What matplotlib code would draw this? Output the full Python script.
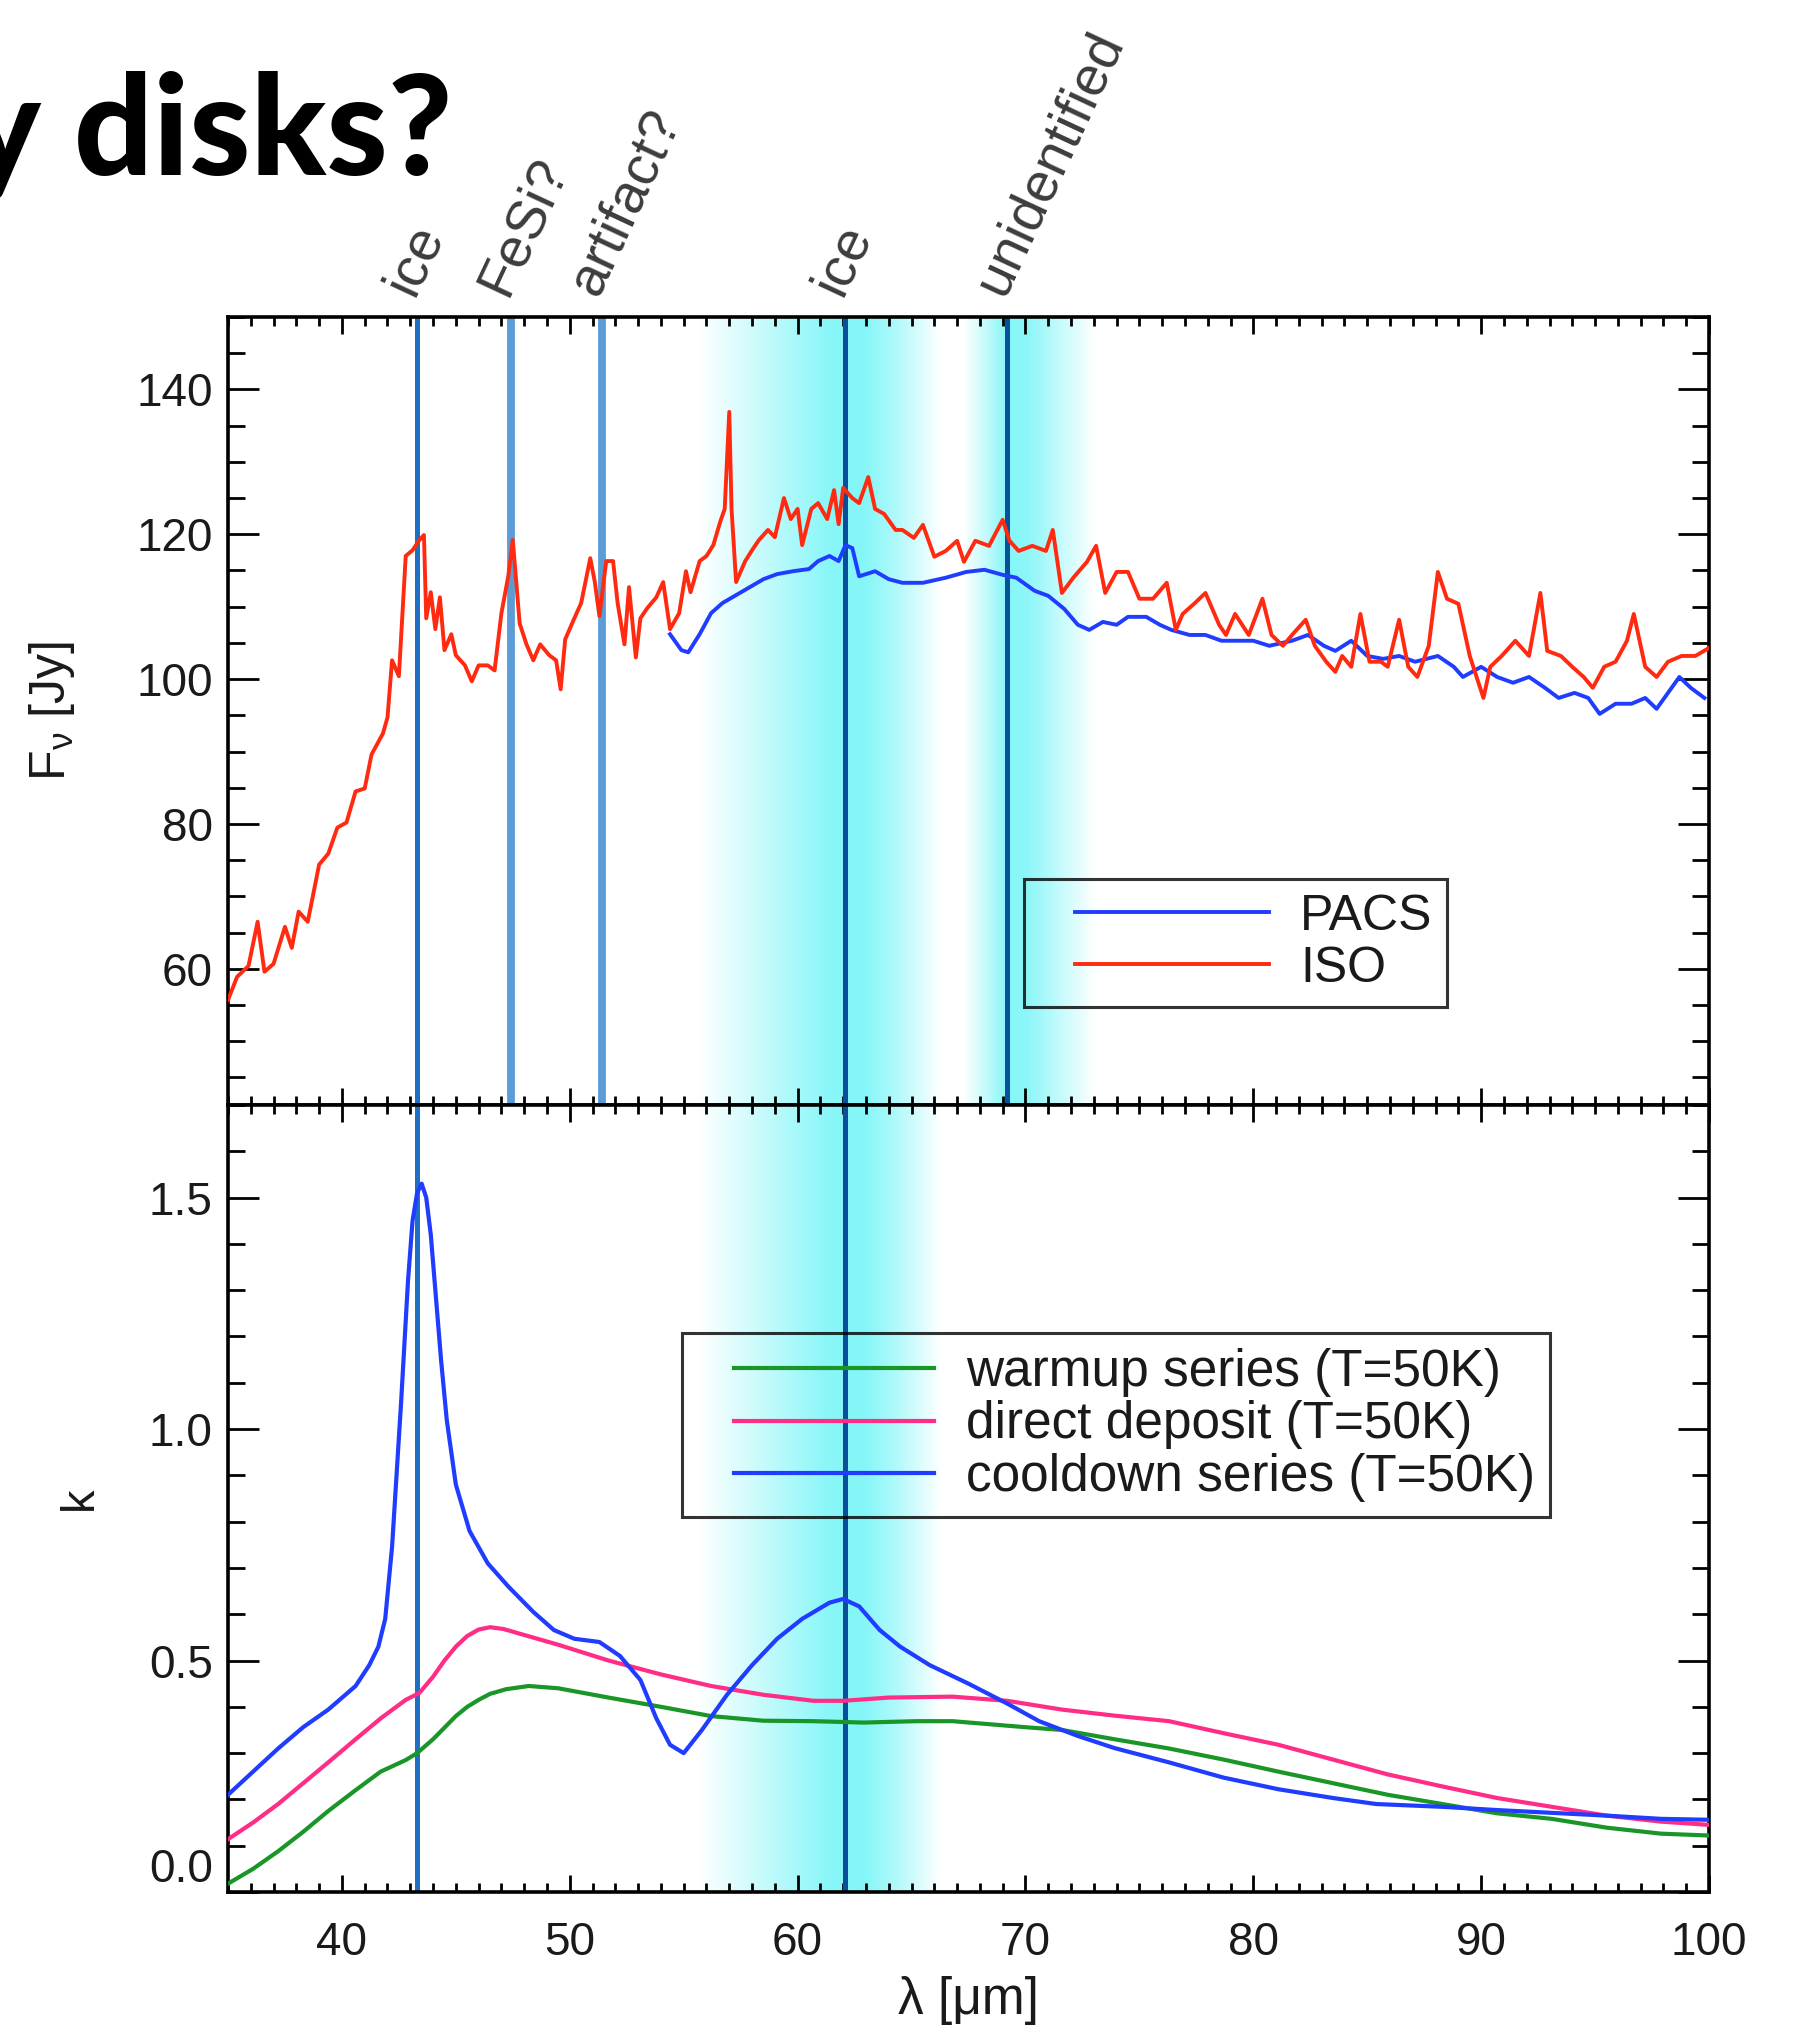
import numpy as np
import matplotlib
matplotlib.use("Agg")
import matplotlib.pyplot as plt
from matplotlib.colors import LinearSegmentedColormap
from matplotlib.legend_handler import HandlerLine2D
from matplotlib.ticker import MultipleLocator, FormatStrFormatter

plt.rcParams['font.family'] = ['Liberation Sans', 'DejaVu Sans']
plt.rcParams['mathtext.fontset'] = 'custom'
plt.rcParams['mathtext.rm'] = 'Liberation Sans'
plt.rcParams['mathtext.it'] = 'Liberation Sans:italic'

# ---------------- data: top panel (flux) ----------------
iso_wl = [35.0, 35.4, 35.9, 36.3, 36.6, 37.0, 37.5, 37.8, 38.1, 38.5, 39.0, 39.4, 39.8,
          40.2, 40.6, 41.0, 41.3, 41.8, 42.0, 42.2, 42.5, 42.8, 43.1, 43.4, 43.6, 43.7,
          43.9, 44.1, 44.3, 44.5, 44.8, 45.0, 45.4, 45.7, 46.0, 46.4, 46.7, 47.0, 47.3,
          47.5, 47.8, 48.1, 48.4, 48.7, 49.1, 49.4, 49.6, 49.8, 50.2, 50.5, 50.9, 51.1,
          51.3, 51.6, 51.9, 52.1, 52.4, 52.6, 52.9, 53.1, 53.4, 53.8, 54.1, 54.4, 54.8,
          55.1, 55.3, 55.7, 56.0, 56.3, 56.6, 56.8, 57.0, 57.1, 57.3, 57.7, 58.0, 58.3,
          58.7, 59.0, 59.4, 59.7, 60.0, 60.2, 60.6, 60.9, 61.3, 61.6, 61.8, 62.0, 62.4,
          62.7, 63.1, 63.4, 63.8, 64.3, 64.6, 65.1, 65.5, 66.0, 66.5, 67.0, 67.3, 67.8,
          68.4, 69.0, 69.3, 69.7, 70.3, 70.9, 71.2, 71.6, 72.1, 72.7, 73.1, 73.5, 74.0,
          74.5, 75.0, 75.6, 76.2, 76.6, 76.9, 77.4, 77.9, 78.5, 78.8, 79.2, 79.8, 80.4,
          80.8, 81.3, 81.7, 82.3, 82.7, 83.2, 83.6, 83.9, 84.3, 84.7, 85.1, 85.6, 85.9,
          86.4, 86.8, 87.2, 87.7, 88.1, 88.5, 89.0, 89.5, 90.1, 90.4, 90.9, 91.5, 92.1,
          92.6, 92.9, 93.5, 94.0, 94.5, 94.9, 95.4, 95.9, 96.4, 96.7, 97.2, 97.7, 98.2,
          98.8, 99.4, 100.0]
iso_flux = [55.7, 58.9, 60.4, 66.5, 59.6, 60.7, 65.8, 62.9, 67.9, 66.5, 74.4, 75.9, 79.5,
            80.2, 84.5, 84.9, 89.6, 92.5, 94.7, 102.6, 100.4, 117.0, 117.8, 119.2, 119.9, 108.4,
            112.0, 106.9, 111.3, 104.0, 106.2, 103.3, 101.9, 99.7, 101.9, 101.9, 101.2, 109.1, 114.2,
            119.2, 107.7, 104.8, 102.6, 104.8, 103.3, 102.6, 98.6, 105.5, 108.4, 110.5, 116.7, 113.4,
            108.7, 116.3, 116.3, 110.5, 104.8, 112.7, 103.0, 108.4, 109.8, 111.3, 113.4, 106.9, 109.1,
            114.9, 112.0, 116.3, 117.0, 118.5, 121.7, 123.5, 136.9, 123.5, 113.4, 116.3, 117.8, 119.2,
            120.6, 119.6, 125.0, 122.1, 123.5, 118.5, 123.5, 124.3, 122.1, 126.1, 121.4, 126.4, 125.0,
            124.3, 127.9, 123.5, 122.8, 120.6, 120.6, 119.5, 121.3, 116.9, 117.7, 119.1, 116.2, 119.1,
            118.4, 122.0, 119.1, 117.7, 118.4, 117.7, 120.6, 111.9, 114.0, 116.2, 118.4, 111.9, 114.8,
            114.8, 111.1, 111.1, 113.3, 106.8, 109.0, 110.4, 111.9, 107.5, 106.1, 109.0, 106.1, 111.1,
            106.1, 104.6, 106.1, 108.2, 104.6, 102.4, 101.0, 103.2, 101.7, 109.0, 102.4, 102.4, 101.7,
            108.2, 101.7, 100.3, 104.6, 114.8, 111.1, 110.4, 103.2, 97.4, 101.7, 103.2, 105.3, 103.2,
            111.9, 103.9, 103.2, 101.7, 100.3, 98.8, 101.7, 102.4, 105.3, 109.0, 101.7, 100.3, 102.4,
            103.2, 103.2, 104.3]

pacs_wl = [54.4, 54.9, 55.2, 55.7, 56.2, 56.7, 57.3, 57.9, 58.5, 59.1, 59.8, 60.5, 60.9,
           61.4, 61.8, 62.1, 62.4, 62.7, 63.4, 64.0, 64.6, 65.5, 66.5, 67.4, 68.2, 69.0,
           69.6, 70.4, 71.0, 71.7, 72.3, 72.8, 73.4, 74.0, 74.5, 75.3, 75.9, 76.4, 77.2,
           77.9, 78.6, 79.3, 80.0, 80.7, 81.7, 82.4, 83.1, 83.6, 84.3, 85.0, 85.7, 86.4,
           87.1, 88.1, 88.8, 89.2, 90.0, 90.7, 91.4, 92.1, 92.8, 93.4, 94.1, 94.7, 95.2,
           95.9, 96.6, 97.2, 97.7, 98.2, 98.7, 99.2, 99.8]
pacs_flux = [106.2, 104.0, 103.7, 106.2, 109.1, 110.5, 111.6, 112.7, 113.8, 114.5, 114.9, 115.2, 116.3,
             117.0, 116.3, 118.5, 118.1, 114.2, 114.9, 113.8, 113.3, 113.3, 114.0, 114.8, 115.1, 114.4,
             114.0, 112.2, 111.5, 109.7, 107.5, 106.8, 107.9, 107.5, 108.6, 108.6, 107.5, 106.8, 106.1,
             106.1, 105.3, 105.3, 105.3, 104.6, 105.3, 106.1, 104.6, 103.9, 105.3, 103.2, 102.8, 103.2,
             102.4, 103.2, 101.7, 100.3, 101.7, 100.3, 99.5, 100.3, 98.8, 97.4, 98.1, 97.4, 95.2,
             96.6, 96.6, 97.4, 95.9, 98.1, 100.3, 98.8, 97.4]

# ---------------- data: bottom panel (k) ----------------
warm_wl = [35.0, 36.1, 37.2, 38.3, 39.4, 40.6, 41.7, 42.8, 43.3, 44.0, 44.5, 45.0, 45.5,
           46.0, 46.5, 47.2, 48.2, 49.5, 51.7, 54.0, 56.2, 58.5, 60.7, 62.9, 65.2, 66.8,
           70.0, 71.6, 73.9, 76.3, 78.7, 81.1, 83.5, 85.9, 88.3, 90.7, 93.1, 95.5, 97.9, 100.0]
warm_k = [0.018, 0.05, 0.088, 0.13, 0.175, 0.22, 0.26, 0.285, 0.30, 0.33, 0.355, 0.38, 0.40,
          0.415, 0.428, 0.438, 0.445, 0.44, 0.42, 0.40, 0.38, 0.37, 0.369, 0.366, 0.369, 0.369,
          0.356, 0.35, 0.33, 0.31, 0.286, 0.26, 0.235, 0.21, 0.19, 0.17, 0.158, 0.139, 0.126, 0.122]

direct_wl = [35.0, 36.1, 37.2, 38.3, 39.4, 40.6, 41.7, 42.8, 43.4, 44.0, 44.5, 45.0, 45.5,
             46.0, 46.5, 47.1, 47.8, 49.5, 51.7, 54.0, 56.2, 58.5, 60.7, 62.0, 64.0, 66.8,
             69.2, 71.6, 73.9, 76.3, 78.7, 81.1, 83.5, 85.9, 88.3, 90.7, 93.1, 95.5, 97.9, 100.0]
direct_k = [0.114, 0.15, 0.19, 0.235, 0.28, 0.33, 0.375, 0.415, 0.43, 0.465, 0.50, 0.53, 0.553,
            0.567, 0.572, 0.568, 0.558, 0.534, 0.50, 0.47, 0.445, 0.426, 0.413, 0.413, 0.42, 0.422,
            0.413, 0.394, 0.381, 0.369, 0.343, 0.318, 0.286, 0.254, 0.228, 0.203, 0.184, 0.165, 0.152, 0.145]

cool_wl = [35.0, 36.1, 37.2, 38.3, 39.4, 40.6, 41.2, 41.6, 41.9, 42.2, 42.6, 42.9, 43.1,
           43.3, 43.5, 43.7, 43.9, 44.1, 44.35, 44.6, 45.0, 45.6, 46.4, 47.3, 48.4, 49.3,
           50.2, 51.3, 52.2, 53.1, 53.8, 54.4, 55.0, 55.8, 56.9, 58.0, 59.1, 60.2, 61.4,
           62.0, 62.7, 63.6, 64.5, 65.8, 67.5, 69.2, 70.6, 72.3, 73.9, 76.3, 78.7, 81.1,
           83.5, 85.4, 88.3, 90.7, 93.1, 95.5, 97.9, 100.0]
cool_k = [0.21, 0.26, 0.31, 0.356, 0.394, 0.445, 0.49, 0.53, 0.59, 0.745, 1.06, 1.32, 1.45,
          1.51, 1.53, 1.50, 1.42, 1.30, 1.15, 1.02, 0.88, 0.78, 0.71, 0.66, 0.605, 0.566,
          0.547, 0.54, 0.51, 0.458, 0.375, 0.318, 0.30, 0.35, 0.426, 0.49, 0.547, 0.59, 0.625,
          0.633, 0.617, 0.566, 0.53, 0.49, 0.45, 0.407, 0.369, 0.337, 0.311, 0.28, 0.247, 0.222,
          0.203, 0.19, 0.184, 0.177, 0.171, 0.165, 0.158, 0.156]

# ---------------- feature markers ----------------
feature_wl = [43.3, 47.4, 51.4, 62.1, 69.2]
feature_labels = ['ice', 'FeSi?', 'artifact?', 'ice', 'unidentified']
feature_colors = ['#1f6fc4', '#5b9bd6', '#5b9bd6', '#0a4f9c', '#0a4f9c']
feature_widths = [3.6, 5.6, 5.6, 3.6, 3.6]
feature_in_bottom = [True, False, False, True, False]

# cyan shading profiles (knots: wavelength, strength)
shade_top_x = [35.0, 55.6, 57.5, 60.0, 61.3, 62.9, 64.3, 66.3, 67.3, 68.4, 69.2, 70.2, 71.6, 73.1, 100.0]
shade_top_v = [0.0, 0.0, 0.3, 0.72, 0.95, 1.0, 0.65, 0.0, 0.0, 0.55, 1.0, 0.9, 0.45, 0.0, 0.0]
shade_bot_x = [35.0, 55.6, 57.5, 60.0, 61.3, 62.9, 64.3, 66.3, 100.0]
shade_bot_v = [0.0, 0.0, 0.3, 0.72, 0.95, 1.0, 0.65, 0.0, 0.0]

# ---------------- figure ----------------
W, H = 1799, 2029
fig = plt.figure(figsize=(W / 100, H / 100), dpi=100)
x0, x1 = 228, 1709
yt, ym, yb = 317, 1105, 1892
ax1 = fig.add_axes([x0 / W, 1 - ym / H, (x1 - x0) / W, (ym - yt) / H])
ax2 = fig.add_axes([x0 / W, 1 - yb / H, (x1 - x0) / W, (yb - ym) / H])

cyan = LinearSegmentedColormap.from_list('cy', ['#ffffff', '#84f6f8'])
grid = np.linspace(35, 100, 1301)
ylim1 = (41.2, 150)
ylim2 = (0.0, 1.7)
ax1.imshow(np.interp(grid, shade_top_x, shade_top_v)[None, :], extent=[35, 100, ylim1[0], ylim1[1]],
           aspect='auto', cmap=cyan, vmin=0, vmax=1, zorder=0, interpolation='bilinear')
ax2.imshow(np.interp(grid, shade_bot_x, shade_bot_v)[None, :], extent=[35, 100, ylim2[0], ylim2[1]],
           aspect='auto', cmap=cyan, vmin=0, vmax=1, zorder=0, interpolation='bilinear')

for xv, c, lw, inb in zip(feature_wl, feature_colors, feature_widths, feature_in_bottom):
    ax1.axvline(xv, color=c, lw=lw, zorder=2)
    if inb:
        ax2.axvline(xv, color=c, lw=lw, zorder=2)

ax1.plot(pacs_wl, pacs_flux, color='#1f3cff', lw=2.8, zorder=3, label='PACS')
ax1.plot(iso_wl, iso_flux, color='#ff2a10', lw=2.8, zorder=3, label='ISO')

ax2.plot(warm_wl, warm_k, color='#1a9628', lw=3.0, zorder=3, label='warmup series (T=50K)')
ax2.plot(direct_wl, direct_k, color='#ff2d85', lw=3.0, zorder=3, label='direct deposit (T=50K)')
ax2.plot(cool_wl, cool_k, color='#1f3cff', lw=3.0, zorder=3, label='cooldown series (T=50K)')

for ax, yl in ((ax1, ylim1), (ax2, ylim2)):
    ax.set_xlim(35, 100)
    ax.set_ylim(*yl)
    for s in ax.spines.values():
        s.set_linewidth(2.6)
    ax.xaxis.set_major_locator(MultipleLocator(10))
    ax.xaxis.set_minor_locator(MultipleLocator(1))
    ax.tick_params(axis='x', which='both', direction='in', top=True, bottom=True, width=2.0)
    ax.tick_params(axis='x', which='major', length=12)
    ax.tick_params(axis='x', which='minor', length=6.5)
    ax.tick_params(axis='y', which='both', direction='in', left=True, right=True, width=2.0)
    ax.tick_params(axis='y', which='major', length=22, pad=11)
    ax.tick_params(axis='y', which='minor', length=12)
    ax.tick_params(labelsize=33, labelcolor='#1a1a1a')

ax1.yaxis.set_major_locator(MultipleLocator(20))
ax1.yaxis.set_minor_locator(MultipleLocator(5))
ax1.set_yticks([60, 80, 100, 120, 140])
ax1.tick_params(axis='x', labelbottom=False)
ax2.yaxis.set_major_locator(MultipleLocator(0.5))
ax2.yaxis.set_minor_locator(MultipleLocator(0.1))
ax2.yaxis.set_major_formatter(FormatStrFormatter('%.1f'))
ax2.tick_params(axis='x', which='major', pad=21)
for lab in ax2.get_yticklabels():
    if lab.get_text() == '0.0':
        lab.set_va('bottom')

ax1.set_ylabel(r'F$_\mathregular{\nu}$ [Jy]', fontsize=36, color='#1a1a1a')
ax1.yaxis.set_label_coords(-0.102, 0.5)
ax2.set_ylabel('k', fontsize=34, color='#1a1a1a')
ax2.yaxis.set_label_coords(-0.085, 0.5)
ax2.set_xlabel('λ [μm]', fontsize=37, color='#1a1a1a')
ax2.xaxis.set_label_coords(0.5, -0.107)


class LeadLine(HandlerLine2D):
    def __init__(self, lead, **kw):
        super().__init__(**kw)
        self.lead = lead

    def create_artists(self, legend, orig_handle, xdescent, ydescent, width, height, fontsize, trans):
        return super().create_artists(legend, orig_handle, xdescent - self.lead * fontsize, ydescent,
                                      width - self.lead * fontsize, height, fontsize, trans)


leg_kw = dict(fontsize=36, frameon=True, fancybox=False, facecolor='none', edgecolor='black',
              borderpad=0.3, handlelength=4.6, handletextpad=0.62, labelspacing=0.12,
              borderaxespad=0.0, loc='upper left')
h1, l1 = ax1.get_legend_handles_labels()
lg1 = ax1.legend(h1, l1, bbox_to_anchor=(0.5375, 0.287),
                 handler_map={h: LeadLine(0.72) for h in h1}, **leg_kw)
lg1.get_frame().set_linewidth(2.2)
h2, l2 = ax2.get_legend_handles_labels()
leg_kw['fontsize'] = 37
leg_kw['labelspacing'] = 0.06
lg2 = ax2.legend(h2, l2, bbox_to_anchor=(0.3066, 0.7103),
                 handler_map={h: LeadLine(0.72) for h in h2}, **leg_kw)
lg2.get_frame().set_linewidth(2.2)
for lg in (lg1, lg2):
    for t in lg.get_texts():
        t.set_color('#1a1a1a')

for xv, txt in zip(feature_wl, feature_labels):
    ax1.annotate(txt, xy=(xv, 1.0), xycoords=('data', 'axes fraction'), xytext=(-3, 14),
                 textcoords='offset points', rotation=65, rotation_mode='anchor',
                 ha='left', va='baseline', fontsize=40, color='#3c3c3c', annotation_clip=False)

fig.text(453 / W, 1 - 175 / H, 'y disks?', ha='right', va='baseline', fontsize=100,
         fontweight='black', family=['Lato', 'DejaVu Sans'], color='black')

fig.savefig('out.png', dpi=100)
